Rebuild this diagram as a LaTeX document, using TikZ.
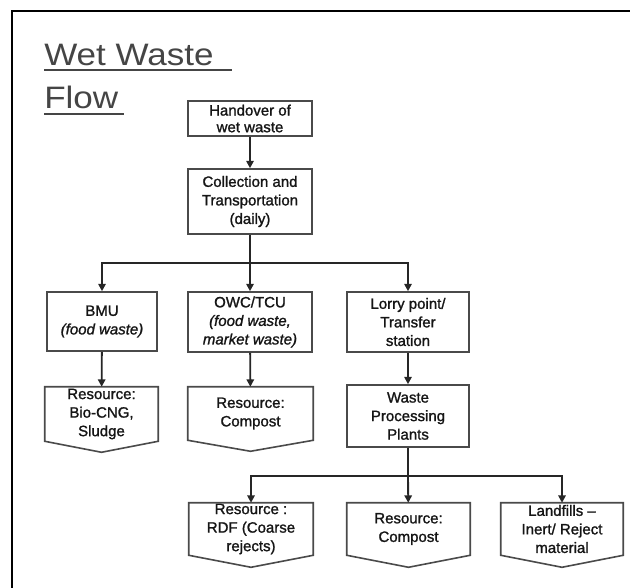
\documentclass[tikz,border=0pt]{standalone}
\usepackage{fontspec}
\setmainfont{Liberation Sans}
\newfontfamily\boxfont{Liberation Sans}[FakeBold=1.3,Ligatures=TeX]
\usetikzlibrary{arrows.meta,calc}
\definecolor{boxc}{HTML}{4A4A4A}
\definecolor{txtc}{HTML}{151515}
\definecolor{ttlc}{HTML}{454545}
\begin{document}
\begin{tikzpicture}[x=0.75pt,y=-0.75pt,
  boxline/.style={draw=boxc, line width=1.2pt},
  box/.style 2 args={boxline, rectangle, minimum width=#1*0.75pt, minimum height=#2*0.75pt,
    inner sep=0pt, align=center, text=txtc, font=\boxfont\fontsize{11.25pt}{13.9pt}\selectfont},
  resbox/.style 2 args={rectangle, draw=none, minimum width=#1*0.75pt, minimum height=#2*0.75pt,
    inner sep=0pt, align=center, text=txtc, font=\boxfont\fontsize{11.25pt}{13.9pt}\selectfont},
  conn/.style={draw=black!85, line width=1.4pt, -{Triangle[width=5.5pt,length=5.5pt]}},
  plain/.style={draw=black!85, line width=1.4pt},
  title/.style={anchor=base west, inner sep=0pt, text=ttlc, font=\fontsize{23.25pt}{28pt}\selectfont},
  titleline/.style={draw=ttlc, line width=1.5pt}
]
\useasboundingbox (0,0) rectangle (630,587);
% frame
\draw[line width=2.2pt, black] (12,588) -- (12,11) -- (631,11);
% title
\node[title] (t1) at (44,65) {\scalebox{1.13}[1]{Wet Waste}};
\node[title] (t2) at (44,108) {\scalebox{1.13}[1]{Flow}};
\draw[titleline] ([yshift=-3.75pt]t1.base west) -- ++(188,0);
\draw[titleline] ([yshift=-4.5pt]t2.base west) -- ++(80,0);
% boxes
\node[box={124}{35}, font=\boxfont\fontsize{11.25pt}{12.5pt}\selectfont] (hand) at (250,118.5) {Handover of\\wet waste};
\node[box={124}{65}] (coll) at (250,201.5) {Collection and\\Transportation\\(daily)};
\node[box={110}{59}] (bmu) at (102,321.5) {BMU\\\textit{(food waste)}};
\node[box={124}{60}] (owc) at (250,322) {OWC/TCU\\\textit{(food waste,}\\\textit{market waste)}};
\node[box={122}{60}] (lorry) at (408,322) {Lorry point/\\Transfer\\station};
\node[resbox={113}{54}] (res1) at (101.5,414) {Resource:\\Bio-CNG,\\Sludge};
\node[resbox={125}{53}] (res2) at (250.5,413.5) {Resource:\\Compost};
\node[box={122}{62}] (wpp) at (408,416) {Waste\\Processing\\Plants};
\node[resbox={124}{52}] (r3) at (251,529) {Resource :\\RDF (Coarse\\rejects)};
\node[resbox={123}{52}] (r4) at (408.5,529) {Resource:\\Compost};
\node[resbox={122}{52}] (r5) at (562,529) {Landfills –\\Inert/ Reject\\material};
\foreach \n/\t in {res1/11,res2/11,r3/12,r4/12,r5/12}
  \draw[boxline] (\n.north west) -- (\n.north east) -- (\n.south east)
    -- ([yshift=-\t*0.75pt]\n.south) -- (\n.south west) -- cycle;
% connectors
\coordinate (j1) at (250,263);
\coordinate (j2) at (408,476);
\draw[conn] (hand) -- (coll);
\draw[plain] (coll) -- (j1);
\draw[conn] (j1) -| (bmu);
\draw[conn] (j1) -- (owc);
\draw[conn] (j1) -| (lorry);
\draw[conn] (bmu) -- (res1);
\draw[conn] (owc) -- (res2);
\draw[conn] (lorry) -- (wpp);
\draw[plain] (wpp) -- (j2);
\draw[conn] (j2) -| (r3);
\draw[conn] (j2) -- (r4);
\draw[conn] (j2) -| (r5);
\end{tikzpicture}
\end{document}
